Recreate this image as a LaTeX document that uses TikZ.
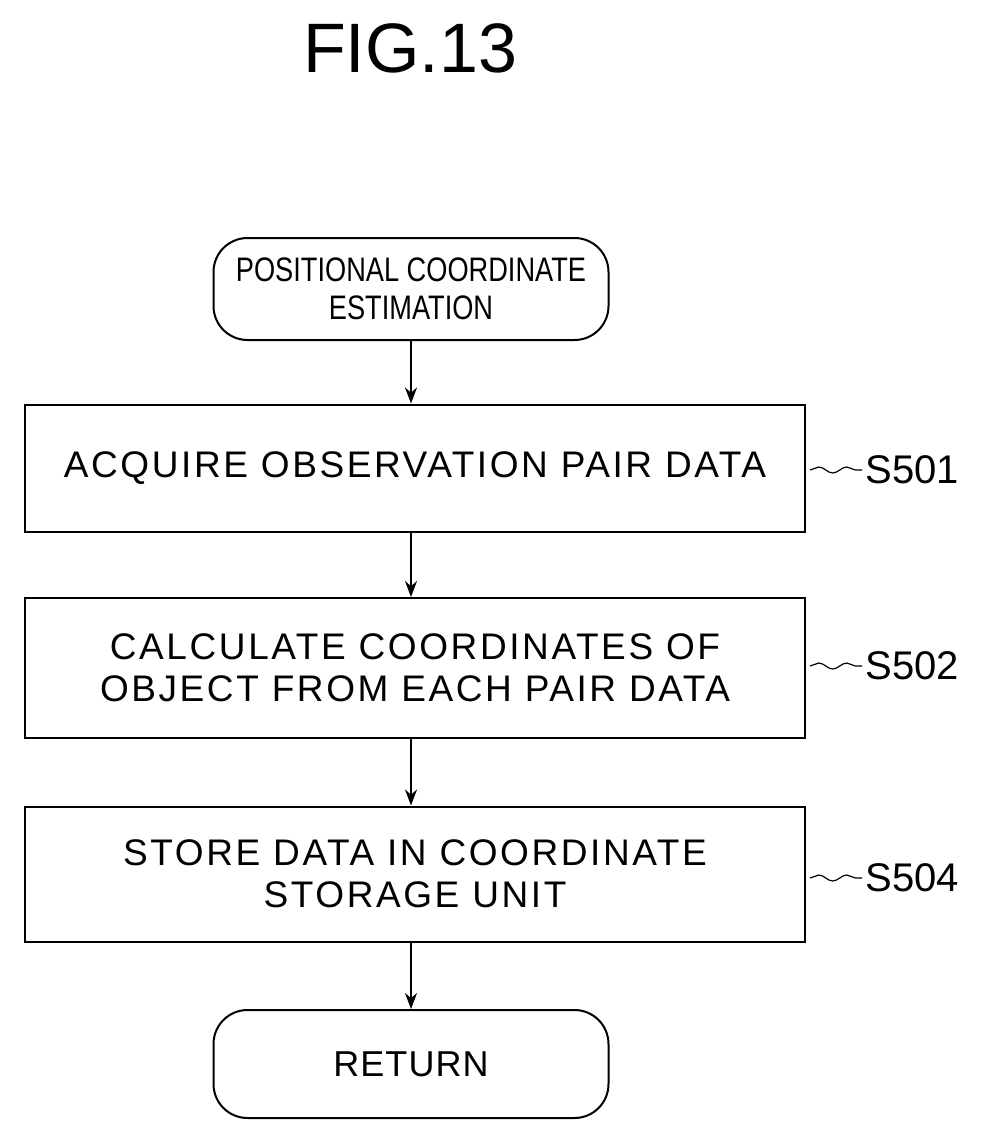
\documentclass[tikz,border=0pt]{standalone}
\usepackage{fontspec}
\setmainfont{Liberation Sans}
\usetikzlibrary{arrows.meta,decorations.pathmorphing}
\begin{document}
\begin{tikzpicture}[x=1pt,y=-1pt,
  box/.style={draw,line width=2pt,minimum width=780pt,align=center,font=\fontsize{37}{42}\selectfont\addfontfeature{LetterSpace=7},inner sep=0pt},
  term/.style={draw,line width=2pt,rounded corners=34pt,minimum width=395pt,align=center,inner sep=0pt},
  arr/.style={line width=2pt,-{Stealth[length=16pt,width=12pt]}},
  lab/.style={font=\fontsize{40}{44}\selectfont,anchor=west},
  wav/.style={line width=1.2pt,decorate,decoration={snake,segment length=28pt,amplitude=3pt}}]
\useasboundingbox (0,0) rectangle (988,1138);
\node (title) at (410,48) {\fontsize{70}{76}\selectfont FIG.13};
\node[term,minimum height=102pt,font=\fontsize{34}{38}\selectfont\addfontfeature{FakeStretch=0.8}] (start) at (411,289) {POSITIONAL COORDINATE\\ESTIMATION};
\node[box,minimum height=127pt] (b1) at (415,468) {ACQUIRE OBSERVATION PAIR DATA};
\node[box,minimum height=140pt] (b2) at (415,668) {CALCULATE COORDINATES OF\\OBJECT FROM EACH PAIR DATA};
\node[box,minimum height=135pt] (b3) at (415,874) {STORE DATA IN COORDINATE\\STORAGE UNIT};
\node[term,minimum height=108pt,font=\fontsize{36}{40}\selectfont\addfontfeature{LetterSpace=3}] (ret) at (411,1064) {RETURN};
\draw[arr] (start.south) -- (start.south|-b1.north);
\draw[arr] (b1.south-|start.south) -- (start.south|-b2.north);
\draw[arr] (b2.south-|start.south) -- (start.south|-b3.north);
\draw[arr] (b3.south-|start.south) -- (ret.north);
\node[lab] (s1) at (862,470) {S501};
\node[lab] (s2) at (862,666) {S502};
\node[lab] (s3) at (862,878) {S504};
\draw[wav] (b1.east|-s1.west) ++(4,0) -- (s1.west);
\draw[wav] (b2.east|-s2.west) ++(4,0) -- (s2.west);
\draw[wav] (b3.east|-s3.west) ++(4,0) -- (s3.west);
\end{tikzpicture}
\end{document}
